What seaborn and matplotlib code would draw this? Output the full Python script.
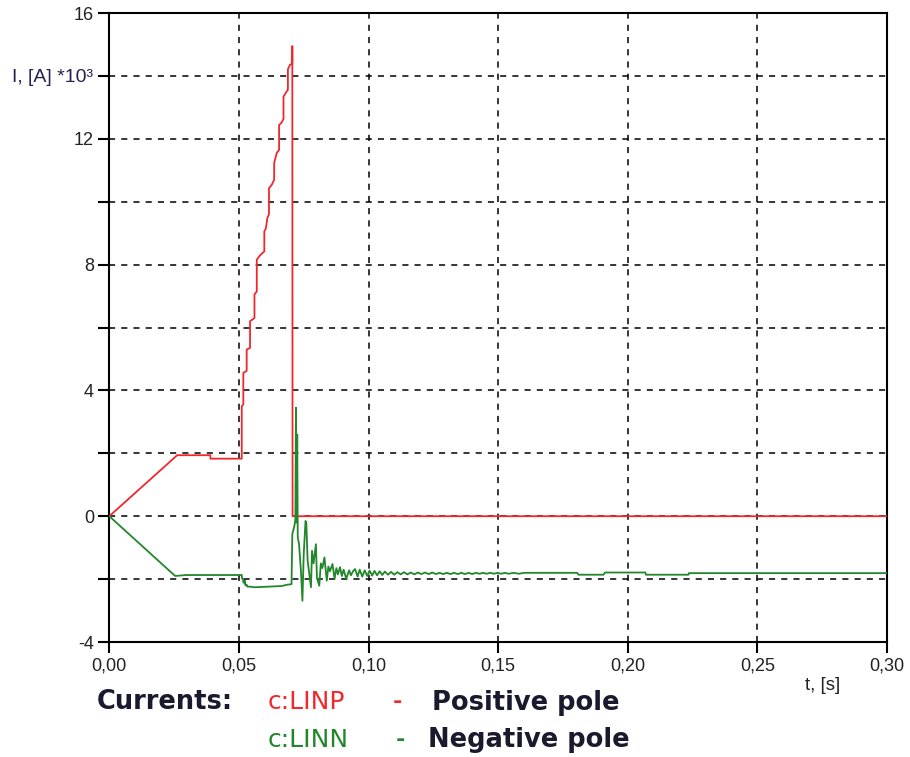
import numpy as np
import pandas as pd
import seaborn as sns
import matplotlib.pyplot as plt
from matplotlib.ticker import FixedLocator, FuncFormatter

# c:LINP - positive pole current, kA
t_pos = [0.0, 0.0262, 0.0390, 0.0390, 0.0511, 0.0511, 0.0517, 0.0517, 0.0530, 0.0530,
         0.0543, 0.0543, 0.0560, 0.0560, 0.0569, 0.0569, 0.0582, 0.0598, 0.0598, 0.0604,
         0.0610, 0.0616, 0.0616, 0.0627, 0.0636, 0.0636, 0.0646, 0.0655, 0.0655, 0.0663,
         0.0672, 0.0672, 0.0679, 0.0689, 0.0689, 0.0697, 0.0706, 0.0706, 0.0707, 0.30]
i_pos = [0.0, 1.94, 1.94, 1.83, 1.83, 3.50, 3.55, 4.56, 4.62, 5.30,
         5.35, 6.20, 6.30, 7.05, 7.15, 8.16, 8.30, 8.42, 9.06, 9.15,
         9.49, 9.60, 10.43, 10.54, 10.70, 11.23, 11.55, 11.65, 12.44, 12.50,
         12.63, 13.34, 13.44, 13.56, 14.21, 14.35, 14.40, 14.95, 0.0, 0.0]

# c:LINN - negative pole current, kA
t_neg = [0.0, 0.0254, 0.0297, 0.0511, 0.0512, 0.0516, 0.0517, 0.0520, 0.0523, 0.0525,
         0.0530, 0.0533, 0.0545, 0.0560, 0.0665, 0.0685, 0.0703, 0.0706, 0.0714, 0.0718,
         0.0720, 0.0722, 0.0725, 0.0727, 0.0732, 0.0740, 0.0745, 0.0750, 0.0757, 0.0760,
         0.0765, 0.0778, 0.0782, 0.0788, 0.0797, 0.0801, 0.0810, 0.0816, 0.0822, 0.0830,
         0.0839, 0.0845, 0.0851, 0.0861, 0.0869, 0.0876, 0.0882, 0.0890, 0.0897, 0.0904,
         0.0914, 0.0925, 0.0932, 0.0940, 0.0948, 0.0958, 0.0966, 0.0976, 0.0985, 0.0995,
         0.1004, 0.1014, 0.1023, 0.1033, 0.1043, 0.1053, 0.1063, 0.1075, 0.1087, 0.1099,
         0.1111, 0.1124, 0.1137, 0.1150, 0.1163, 0.1177, 0.1190, 0.1204, 0.1218, 0.1232,
         0.1246, 0.1260, 0.1274, 0.1288, 0.1302, 0.1316, 0.1330, 0.1344, 0.1358, 0.1372,
         0.1386, 0.1400, 0.1414, 0.1428, 0.1442, 0.1456, 0.1470, 0.1484, 0.1498, 0.1512,
         0.1526, 0.1540, 0.1560, 0.1580, 0.1600, 0.1805, 0.1810, 0.1907, 0.1912, 0.2068,
         0.2070, 0.2234, 0.2236, 0.30]
i_neg = [0.0, -1.90, -1.87, -1.87, -1.98, -2.00, -2.10, -2.12, -2.05, -2.20,
         -2.18, -2.24, -2.24, -2.26, -2.22, -2.18, -2.16, -0.57, -0.31, -0.10,
         3.45, -0.20, 2.60, -0.67, -0.89, -1.84, -2.69, -1.21, -0.15, -0.20,
         -1.40, -2.26, -1.10, -1.50, -0.89, -1.95, -2.21, -1.50, -1.65, -1.31,
         -2.05, -1.60, -1.75, -1.52, -1.99, -1.65, -1.85, -1.62, -1.90, -1.70,
         -1.99, -1.72, -1.88, -1.75, -1.68, -1.92, -1.70, -1.92, -1.72, -1.90,
         -1.73, -1.89, -1.74, -1.88, -1.75, -1.87, -1.76, -1.86, -1.77, -1.86,
         -1.78, -1.85, -1.78, -1.85, -1.79, -1.85, -1.79, -1.84, -1.79, -1.84,
         -1.79, -1.84, -1.80, -1.84, -1.80, -1.84, -1.80, -1.84, -1.80, -1.84,
         -1.80, -1.84, -1.80, -1.83, -1.80, -1.83, -1.80, -1.83, -1.80, -1.83,
         -1.80, -1.83, -1.80, -1.83, -1.80, -1.80, -1.86, -1.86, -1.79, -1.79,
         -1.86, -1.86, -1.81, -1.81]

x_ticks = [0.0, 0.05, 0.10, 0.15, 0.20, 0.25, 0.30]
y_ticks = [-4, -2, 0, 2, 4, 6, 8, 10, 12, 14, 16]
y_labels = [-4, 0, 4, 8, 12, 16]

RED = '#f0282d'
GREEN = '#22862a'
DARK = '#1a1a2e'

sns.set_style('ticks')
plt.rcParams['font.family'] = 'sans-serif'
plt.rcParams['font.sans-serif'] = ['Liberation Sans']

fig = plt.figure(figsize=(9.1, 7.57), dpi=100)
ax = fig.add_axes([0.1201, 0.1519, 0.8546, 0.8309])

pos = pd.DataFrame({'t': t_pos, 'i': i_pos})
neg = pd.DataFrame({'t': t_neg, 'i': i_neg})
sns.lineplot(data=pos, x='t', y='i', sort=False, estimator=None, color=RED, lw=1.3, ax=ax, zorder=3)
sns.lineplot(data=neg, x='t', y='i', sort=False, estimator=None, color=GREEN, lw=1.3, ax=ax, zorder=3)

ax.set_xlim(0, 0.30)
ax.set_ylim(-4, 16)
ax.xaxis.set_major_locator(FixedLocator(x_ticks))
ax.yaxis.set_major_locator(FixedLocator(y_ticks))
ax.xaxis.set_major_formatter(FuncFormatter(lambda v, p: f'{v:.2f}'.replace('.', ',')))
ax.yaxis.set_major_formatter(FuncFormatter(lambda v, p: f'{int(round(v))}' if round(v) in y_labels else ''))
ax.tick_params(direction='out', length=8, width=1.5, labelsize=13, colors='black',
               labelcolor='#222222', pad=3)
ax.grid(True, color='black', linestyle=(0, (4, 4)), lw=1.1)
for s in ax.spines.values():
    s.set_visible(True)
    s.set_color('black')
    s.set_linewidth(1.5)
ax.set_xlabel('')
ax.set_ylabel('')

fig.text(0.013, 0.897, 'I, [A] *10³', fontsize=14, color='#2a2050', va='center', ha='left')
fig.text(0.885, 0.095, 't, [s]', fontsize=13.5, color='#222222', va='center', ha='left')

leg_font = ['DejaVu Sans']
fig.text(0.106, 0.073, 'Currents:', fontsize=18.5, fontweight='bold', family=leg_font,
         color=DARK, va='center')
fig.text(0.294, 0.073, 'c:LINP', fontsize=18, family=leg_font, color=RED, va='center')
fig.text(0.432, 0.073, '-', fontsize=16, fontweight='bold', family=leg_font, color=RED, va='center')
fig.text(0.475, 0.071, 'Positive pole', fontsize=18.5, fontweight='bold', family=leg_font,
         color=DARK, va='center')
fig.text(0.294, 0.023, 'c:LINN', fontsize=18, family=leg_font, color=GREEN, va='center')
fig.text(0.435, 0.023, '-', fontsize=16, fontweight='bold', family=leg_font, color=GREEN, va='center')
fig.text(0.470, 0.023, 'Negative pole', fontsize=18.5, fontweight='bold', family=leg_font,
         color=DARK, va='center')

fig.savefig('out.png', dpi=100)
